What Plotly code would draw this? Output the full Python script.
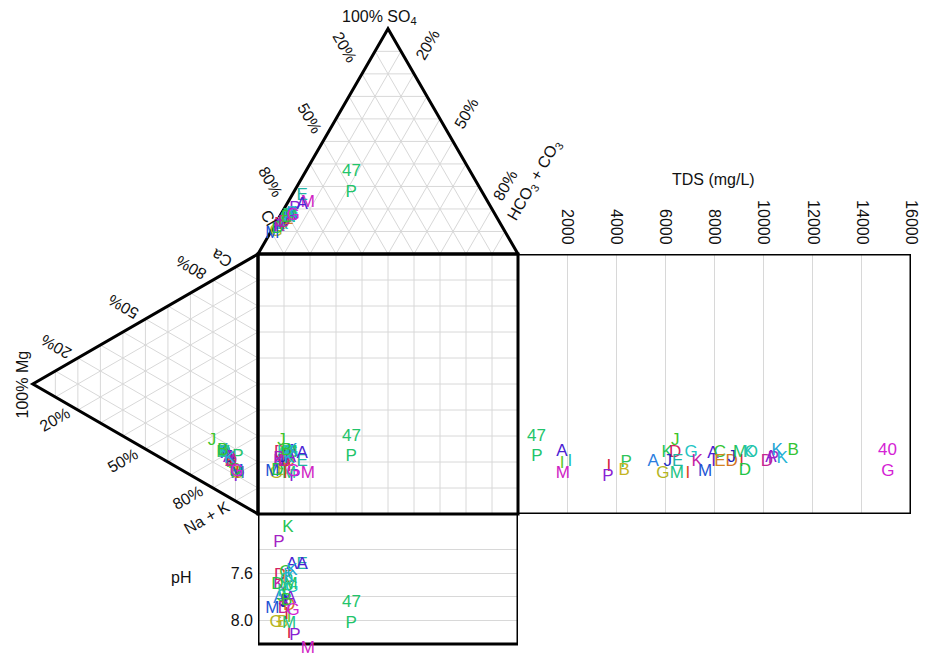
import math
import plotly.graph_objects as go

# ---------------- data ----------------
letters = ["P", "A", "I", "I", "M", "I", "P", "P", "B", "A", "K", "J", "D", "J", "E", "G", "M", "G", "K", "I",
           "M", "A", "I", "C", "E", "D", "J", "I", "M", "O", "K", "D", "D", "A", "P", "K", "K", "B", "G"]
colors = ["#22c46a", "#4a22d4", "#5cc82a", "#22bcb0", "#d022c4", "#d42040", "#8a22d4", "#2ec45a", "#c4b422", "#2a7ee0",
          "#26c454", "#3cc42a", "#d42262", "#2232c4", "#22b4a4", "#b4b422", "#22c484", "#22c4c4", "#c422a4", "#e04422",
          "#2254d4", "#4a22d4", "#6a22c4", "#34c434", "#d48422", "#d47422", "#2222b4", "#d43434", "#22c464", "#22c4a4",
          "#22c4b4", "#22c444", "#c42294", "#8222d4", "#a422c4", "#22b4d4", "#22a4d4", "#34c434", "#d422d4"]
# cations (% meq)
ca = [17.4, 16.5, 13.0, 14.0, 11.0, 12.5, 10.0, 14.0, 11.5, 14.0, 16.0, 18.0, 16.0, 14.0, 14.0, 11.0, 11.0, 16.0, 14.0, 11.0,
      11.5, 16.0, 14.0, 16.0, 14.0, 14.0, 15.0, 14.0, 16.0, 16.0, 16.0, 11.5, 14.0, 15.0, 15.0, 15.0, 16.5, 16.5, 11.5]
mg = [8.9, 14.6, 12.4, 12.0, 9.0, 11.0, 8.4, 11.8, 10.0, 12.0, 15.4, 20.4, 14.8, 12.0, 12.0, 9.2, 9.2, 15.0, 12.0, 9.2,
      9.5, 14.0, 12.0, 15.4, 12.2, 12.0, 13.0, 12.0, 15.4, 15.0, 15.0, 10.0, 12.0, 13.0, 12.6, 12.6, 15.6, 15.6, 9.5]
nak = [73.7, 68.9, 74.6, 74.0, 80.0, 76.5, 81.6, 74.2, 78.5, 74.0, 68.6, 61.6, 69.2, 74.0, 74.0, 79.8, 79.8, 69.0, 74.0, 79.8,
       79.0, 70.0, 74.0, 68.6, 73.8, 74.0, 72.0, 74.0, 68.6, 69.0, 69.0, 78.5, 74.0, 72.0, 72.4, 72.4, 67.9, 67.9, 79.0]
# anions (% meq)
cl = [50.5, 78, 80, 82, 69.5, 80, 75.8, 81, 84, 86, 80, 84, 85, 83, 70, 88, 80, 78, 86, 82,
      90, 72, 84, 82, 81, 80, 83, 81, 79, 81, 84, 87, 83, 79, 86, 80, 78, 81, 78]
so4 = [27.4, 18, 16, 15, 22.6, 16, 20, 15, 13, 12, 17, 14, 13, 14, 26, 10, 16, 18, 12, 15,
       9, 22, 13, 15, 15, 16, 15, 16, 17, 16, 13, 11, 14, 17, 12, 16, 18, 16, 17]
hco3 = [22.1, 4, 4, 3, 7.9, 4, 4.2, 4, 3, 2, 3, 2, 2, 3, 4, 2, 4, 4, 2, 3,
        1, 6, 3, 3, 4, 4, 2, 3, 4, 3, 3, 2, 3, 4, 2, 4, 4, 3, 5]
tds = [770, 1790, 1800, 2110, 1830, 3700, 3660, 4400, 4320, 5500, 6070, 6400, 6400, 6100, 6500, 5900, 6470, 7050, 7290, 6920,
       7620, 7940, 7960, 8220, 8220, 8700, 8700, 9100, 9040, 9500, 9400, 9240, 10130, 10300, 10400, 10750, 10550, 11200, 15060]
ph = [8.03, 7.53, 7.98, 7.62, 8.24, 8.11, 8.13, 7.75, 8.02, 7.82, 7.22, 7.80, 7.62, 7.85, 7.53, 8.02, 8.03, 7.72, 7.70, 7.66,
      7.90, 7.53, 7.84, 7.60, 7.64, 7.88, 7.84, 7.95, 7.70, 7.66, 7.76, 7.70, 7.90, 7.82, 7.34, 7.64, 7.58, 7.83, 7.92]
notes_main = {0: "47"}          # shown in anion triangle, square and pH panel
notes_tds = {0: "47", 38: "40"}  # shown in TDS panel

tds_ticks = [2000, 4000, 6000, 8000, 10000, 12000, 14000, 16000]
tds_ticktext = ["2000", "4000", "6000", "8000", "10000", "12000", "14000", "16000"]
ph_min, ph_max = 7.1, 8.2
ph_ticks = [7.4, 7.6, 7.8, 8.0]
ph_ticktext = ["", "7.6", "", "8.0"]
pct_labels = ["20%", "50%", "80%"]

# ---------------- geometry ----------------
S3 = math.sqrt(3) / 2
W, H = 930, 655
SQ_L, SQ_T, SQ = 258, 254, 260          # square position in pixels
PH_H = 130                               # pH box height in pixels
U = SQ / 100.0                           # pixels per percent
XR = [-SQ_L / U, (W - SQ_L) / U]
YR = [100 - (H - SQ_T) / U, 100 + SQ_T / U]
TDS_R = 911
# pH axis runs down to the bottom of the figure so that points below the box stay visible
PH_LOW_PX = H - SQ_T - SQ
ph_axis_bottom = ph_min + (ph_max - ph_min) * PH_LOW_PX / PH_H

def anion_xy(c, s, h):
    return h + s / 2.0, 100 + s * S3

def cation_xy(a, m, n):
    return -m * S3, a + m / 2.0

xa, ya, xc, yc = [], [], [], []
for i in range(len(letters)):
    x1, y1 = anion_xy(cl[i], so4[i], hco3[i])
    x2, y2 = cation_xy(ca[i], mg[i], nak[i])
    xa.append(x1); ya.append(y1); xc.append(x2); yc.append(y2)

FONT = "Liberation Sans, Arial, sans-serif"
fig = go.Figure()

def text_trace(x, y, xaxis="x", yaxis="y"):
    return go.Scatter(x=x, y=y, mode="text", text=letters,
                      textfont=dict(family=FONT, size=17, color=colors),
                      textposition="middle center", hoverinfo="skip",
                      showlegend=False, xaxis=xaxis, yaxis=yaxis, cliponaxis=False)

fig.add_trace(text_trace(xa, ya))                 # anion triangle
fig.add_trace(text_trace(xc, yc))                 # cation triangle
fig.add_trace(text_trace(xa, yc))                 # square
fig.add_trace(text_trace(tds, yc, "x2", "y3"))    # TDS panel
fig.add_trace(text_trace(xa, ph, "x3", "y2"))     # pH panel

shapes = []
GRID = dict(color="#d8d8d8", width=1)
def line(p, q, **kw):
    d = dict(type="line", x0=p[0], y0=p[1], x1=q[0], y1=q[1], xref="x", yref="y",
             line=GRID, layer="between")
    d.update(kw)
    shapes.append(d)

for k in range(10, 100, 10):
    # anion triangle grid
    line(anion_xy(100 - k, k, 0), anion_xy(0, k, 100 - k))
    line(anion_xy(100 - k, 0, k), anion_xy(0, 100 - k, k))
    line(anion_xy(k, 0, 100 - k), anion_xy(k, 100 - k, 0))
    # cation triangle grid
    line(cation_xy(100 - k, k, 0), cation_xy(0, k, 100 - k))
    line(cation_xy(100 - k, 0, k), cation_xy(0, 100 - k, k))
    line(cation_xy(k, 0, 100 - k), cation_xy(k, 100 - k, 0))
    # square grid
    line((k, 0), (k, 100))
    line((0, k), (100, k))

OUT = dict(color="black", width=3)
def path(pts):
    return "M " + " L ".join(f"{x},{y}" for x, y in pts) + " Z"
shapes.append(dict(type="path", path=path([anion_xy(100, 0, 0), anion_xy(0, 0, 100), anion_xy(0, 100, 0)]),
                   xref="x", yref="y", line=OUT, layer="between"))
shapes.append(dict(type="path", path=path([cation_xy(100, 0, 0), cation_xy(0, 100, 0), cation_xy(0, 0, 100)]),
                   xref="x", yref="y", line=OUT, layer="between"))
shapes.append(dict(type="rect", x0=0, x1=100, y0=0, y1=100, xref="x", yref="y", line=OUT, layer="between"))
shapes.append(dict(type="rect", x0=0, x1=tds_ticks[-1], y0=0, y1=100, xref="x2", yref="y3", line=OUT, layer="between"))
shapes.append(dict(type="rect", x0=0, x1=100, y0=ph_min, y1=ph_max, xref="x3", yref="y2", line=OUT, layer="between"))

# ---------------- labels ----------------
ann = []
def lab(x, y, t, ang=0, size=16, **kw):
    d = dict(x=x, y=y, text=t, textangle=ang, showarrow=False, xref="x", yref="y",
             font=dict(family=FONT, size=size, color="#111"))
    d.update(kw)
    ann.append(d)

lab(46.9, 190.8, "100% SO<sub>4</sub>")
for (x, y), t in zip([(33.5, 179.6), (20.0, 152.3), (4.6, 127.7)], pct_labels):
    lab(x, y, t, 60)
lab(4.0, 114.0, "Cl", 60)
for (x, y), t in zip([(65.4, 180.4), (80.0, 154.2), (95.0, 126.5)], pct_labels):
    lab(x, y, t, -60)
lab(106.5, 128.1, "HCO<sub>3</sub> + CO<sub>3</sub>", -60)

for (x, y), t in zip([(-77.7, 64.2), (-51.9, 79.6), (-25.8, 94.6)], pct_labels):
    lab(x, y, t, -150)
lab(-13.8, 98.5, "Ca", -150)
lab(-90.6, 50.0, "100% Mg", -90)
for (x, y), t in zip([(-78.1, 36.2), (-51.9, 20.4), (-26.9, 6.2)], pct_labels):
    lab(x, y, t, -30)
lab(-19.6, -1.5, "Na + K", -30)

lab(175.0, 128.5, "TDS (mg/L)")
lab(-29.6, -24.6, "pH")

def note(x, y, t, col, xr="x", yr="y"):
    ann.append(dict(x=x, y=y, text=t, showarrow=False, xref=xr, yref=yr, yshift=22,
                    font=dict(family=FONT, size=17, color=col)))

for i, t in notes_main.items():
    note(xa[i], ya[i], t, colors[i])
    note(xa[i], yc[i], t, colors[i])
    note(xa[i], ph[i], t, colors[i], "x3", "y2")
for i, t in notes_tds.items():
    note(tds[i], yc[i], t, colors[i], "x2", "y3")

fig.update_layout(
    template="none",
    width=W, height=H, margin=dict(l=0, r=0, t=0, b=0, pad=0), autosize=False,
    paper_bgcolor="white", plot_bgcolor="white", showlegend=False,
    xaxis=dict(range=XR, visible=False, domain=[0, 1], automargin=False),
    yaxis=dict(range=YR, visible=False, domain=[0, 1], automargin=False),
    xaxis2=dict(domain=[(SQ_L + SQ) / W, TDS_R / W], anchor="y3", range=[0, tds_ticks[-1]],
                side="top", tickvals=tds_ticks, ticktext=tds_ticktext, tickangle=90, showgrid=True,
                gridcolor="#d8d8d8", gridwidth=1, zeroline=False, showline=False, ticks="",
                ticklabelstandoff=6, automargin=False,
                tickfont=dict(family=FONT, size=16, color="#111")),
    yaxis3=dict(domain=[(H - SQ_T - SQ) / H, (H - SQ_T) / H], anchor="x2", range=[0, 100],
                showgrid=False, zeroline=False, showticklabels=False, ticks="", automargin=False),
    xaxis3=dict(domain=[SQ_L / W, (SQ_L + SQ) / W], anchor="y2", range=[0, 100],
                showgrid=False, zeroline=False, showticklabels=False, ticks="", automargin=False),
    yaxis2=dict(domain=[0, PH_LOW_PX / H], anchor="x3", range=[ph_axis_bottom, ph_min],
                tickvals=ph_ticks, ticktext=ph_ticktext, showgrid=True, gridcolor="#d8d8d8", gridwidth=1,
                zeroline=False, showline=False, ticks="", ticklabelstandoff=4, automargin=False,
                tickfont=dict(family=FONT, size=16, color="#111")),
    shapes=shapes, annotations=ann,
)

fig.write_html("out.html", config={"responsive": False, "displayModeBar": False},
               post_script="document.body.style.margin='0';document.body.style.overflow='hidden';")
